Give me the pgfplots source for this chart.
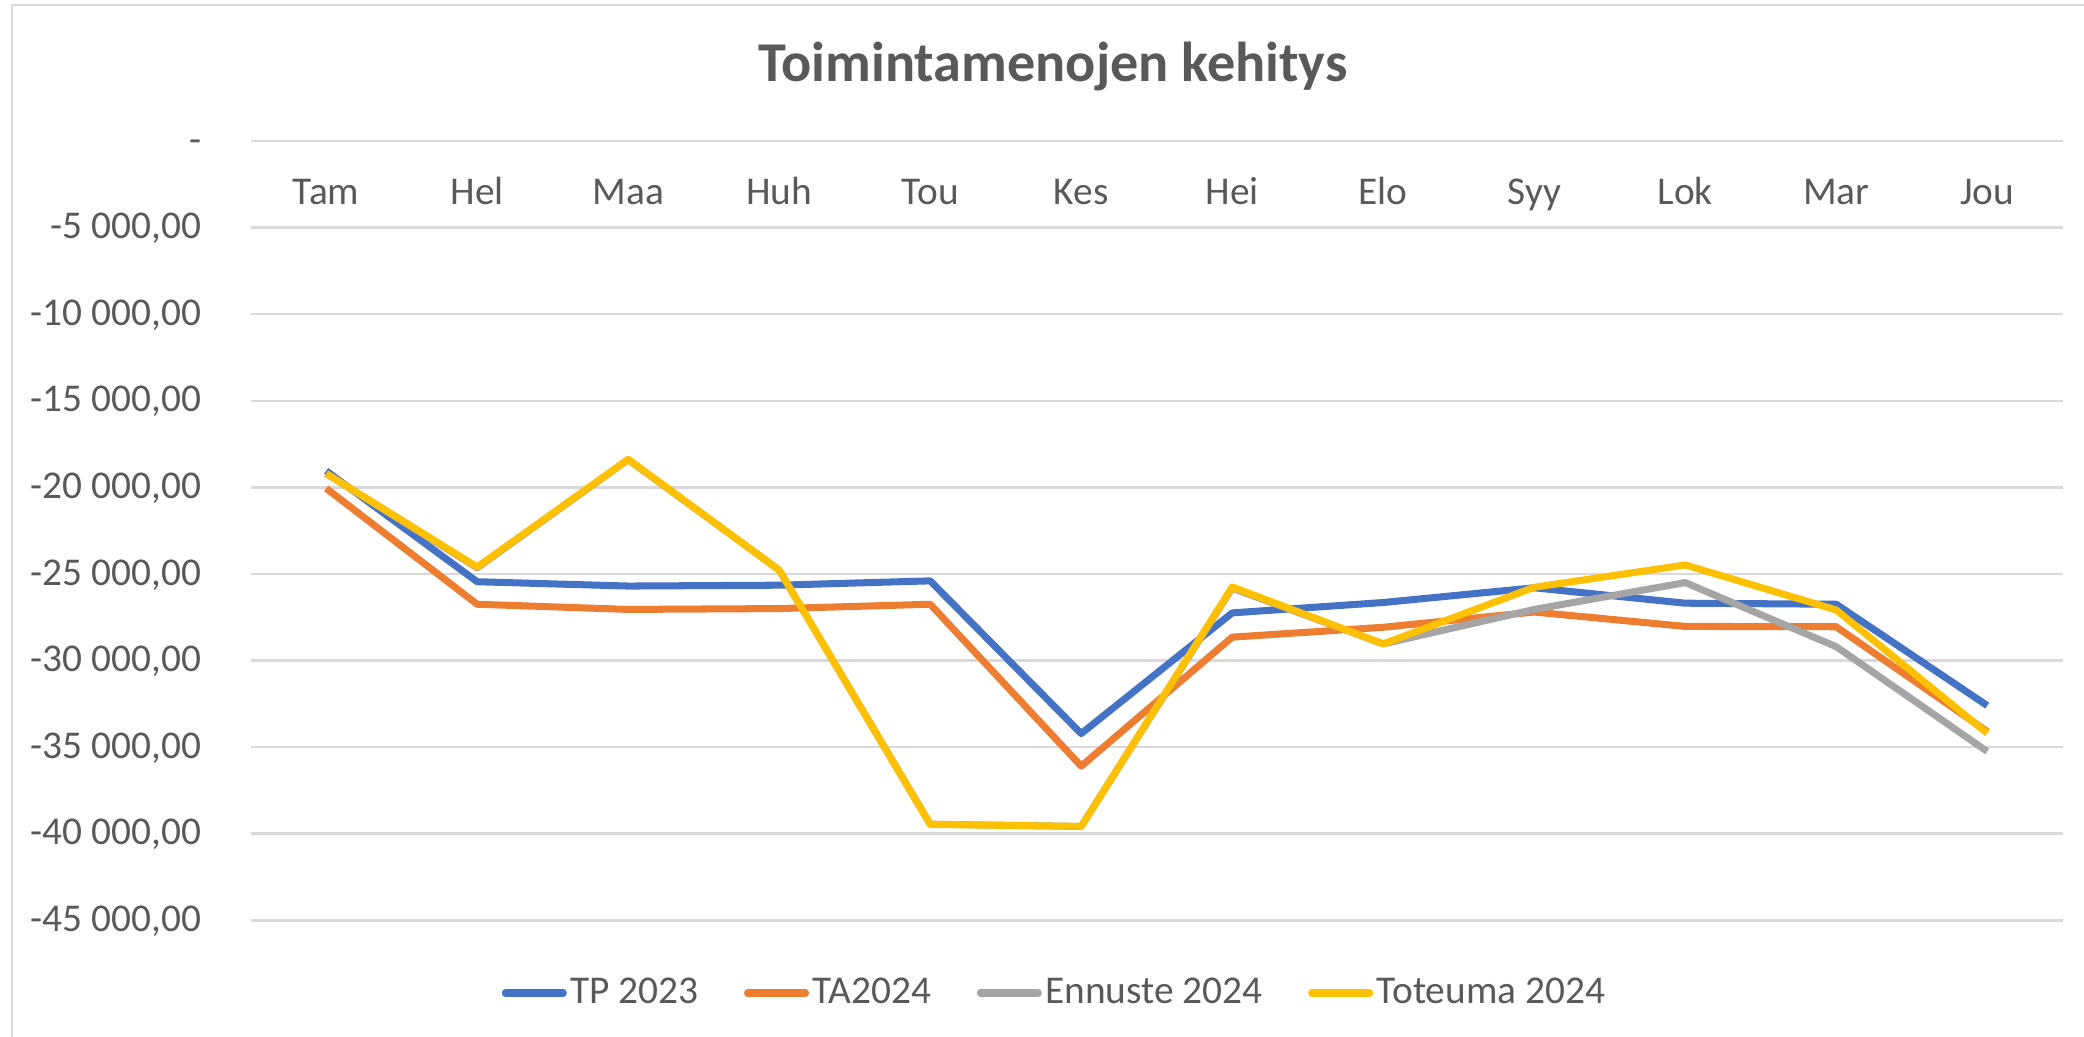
\documentclass[border=0pt]{standalone}
\usepackage{fontspec}
\setmainfont{Carlito}
\usepackage{pgfplots}
\pgfplotsset{compat=1.18}
\usepackage{xcolor}
\definecolor{tpBlue}{HTML}{4472C4}
\definecolor{taOrange}{HTML}{ED7D31}
\definecolor{ennGray}{HTML}{A5A5A5}
\definecolor{totYellow}{HTML}{FFC000}
\definecolor{txtGray}{HTML}{595959}
\definecolor{gridGray}{HTML}{D9D9D9}

\begin{document}
\begin{tikzpicture}
\useasboundingbox (0,0) rectangle (20.84,10.37);
% chart frame (only left and top edges are visible)
\draw[gridGray, line width=0.8pt] (0.12,0) -- (0.12,10.32) -- (20.84,10.32);

\begin{axis}[
    at={(2.507cm,1.167cm)}, anchor=south west,
    scale only axis,
    width=18.12cm, height=7.793cm,
    xmin=-0.5, xmax=11.5,
    ymin=-45000, ymax=0,
    scaled y ticks=false,
    xtick={0,...,11},
    xticklabels={Tam,Hel,Maa,Huh,Tou,Kes,Hei,Elo,Syy,Lok,Mar,Jou},
    xticklabel pos=upper,
    xticklabel style={anchor=base, yshift=-0.64cm, font=\fontsize{11.2}{13}\selectfont, text=txtGray},
    ytick={-45000,-40000,-35000,-30000,-25000,-20000,-15000,-10000,-5000,0},
    yticklabels={{-45 000,00},{-40 000,00},{-35 000,00},{-30 000,00},{-25 000,00},
                 {-20 000,00},{-15 000,00},{-10 000,00},{-5 000,00},{-\hspace{0.16cm}}},
    yticklabel style={anchor=east, inner sep=0pt, xshift=-0.487cm,
                      text height=0.64em, text depth=0pt,
                      font=\fontsize{11.2}{13}\selectfont, text=txtGray},
    tick style={draw=none},
    axis line style={draw=none},
    ymajorgrids,
    grid style={gridGray, line width=0.7pt},
    legend columns=4,
    legend style={at={(0.444,-0.0933)}, anchor=center, draw=none,
                  font=\fontsize{11.2}{13}\selectfont, text=txtGray,
                  nodes={inner sep=1pt},
                  /tikz/every even column/.append style={column sep=0.42cm}},
    legend image code/.code={\draw[#1, line cap=round] (0cm,0cm) -- (0.58cm,0cm);},
    every axis plot/.append style={line width=2pt, line join=round, mark=none},
]

% TP 2023
\addplot[color=tpBlue] coordinates {
    (0,-19050) (1,-25450) (2,-25700) (3,-25650) (4,-25400) (5,-34220)
    (6,-27250) (7,-26650) (8,-25800) (9,-26690) (10,-26750) (11,-32600)
};
\addlegendentry{TP 2023}

% TA2024
\addplot[color=taOrange] coordinates {
    (0,-20060) (1,-26750) (2,-27050) (3,-27000) (4,-26750) (5,-36100)
    (6,-28650) (7,-28080) (8,-27200) (9,-28030) (10,-28050) (11,-34100)
};
\addlegendentry{TA2024}

% Ennuste 2024
\addplot[color=ennGray] coordinates {
    (0,-19200) (1,-24650) (2,-18400) (3,-24780) (4,-39450) (5,-39580)
    (6,-25820) (7,-29040) (8,-27050) (9,-25500) (10,-29200) (11,-35250)
};
\addlegendentry{Ennuste 2024}

% Toteuma 2024
\addplot[color=totYellow] coordinates {
    (0,-19200) (1,-24600) (2,-18380) (3,-24780) (4,-39460) (5,-39580)
    (6,-25750) (7,-29040) (8,-25770) (9,-24480) (10,-27080) (11,-34200)
};
\addlegendentry{Toteuma 2024}

\end{axis}

\node[anchor=base, font=\bfseries\fontsize{16}{19}\selectfont, text=txtGray]
    at (10.53,9.55) {Toimintamenojen kehitys};
\end{tikzpicture}
\end{document}
